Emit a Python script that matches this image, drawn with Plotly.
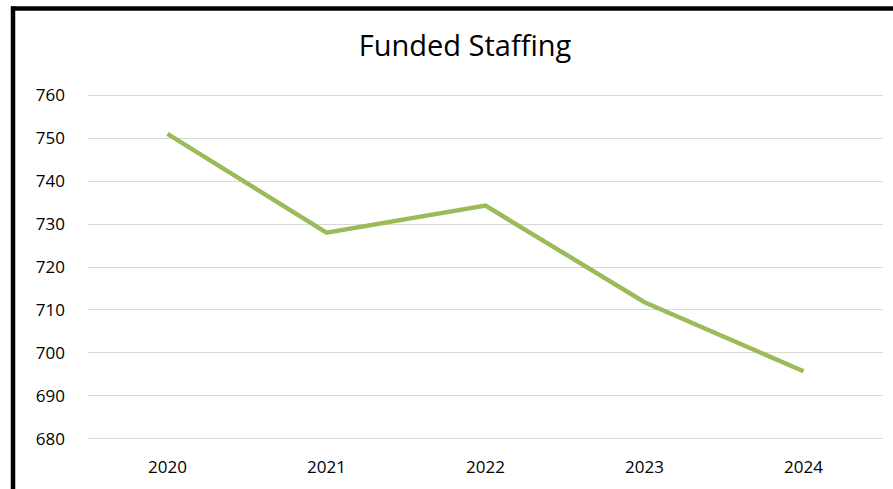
import plotly.graph_objects as go

years = ["2020", "2021", "2022", "2023", "2024"]
staffing = [751, 728, 734.3, 711.8, 695.7]
y_ticks = [680, 690, 700, 710, 720, 730, 740, 750, 760]

W, H = 893, 489
ml, mr, mt, mb = 88, 10, 91, 46
pw, ph = W - ml - mr, H - mt - mb

def px_x(x):
    return (x - ml) / pw

def px_y(y):
    return (H - mb - y) / ph

fig = go.Figure()
fig.add_trace(go.Scatter(
    x=years, y=staffing, mode="lines",
    line=dict(color="#9BBB59", width=4.5),
    hoverinfo="x+y",
))

fig.update_layout(
    width=W, height=H,
    margin=dict(l=ml, r=mr, t=mt, b=mb, autoexpand=False),
    paper_bgcolor="white", plot_bgcolor="white",
    showlegend=False,
    font=dict(family="Open Sans, Liberation Sans, sans-serif", color="#000000"),
    title=dict(
        text="Funded Staffing",
        font=dict(size=29, color="#000000"),
        x=465 / W, xref="container", xanchor="center",
        y=1 - 46 / H, yref="container", yanchor="middle",
    ),
    xaxis=dict(
        type="category", range=[-0.5, 4.5], showgrid=False, zeroline=False,
        showline=False, tickfont=dict(size=17), ticklabelstandoff=12,
        automargin=False,
    ),
    yaxis=dict(
        range=[679, 761], tickvals=y_ticks, showgrid=True, gridcolor="#d9d9d9",
        gridwidth=1.3, zeroline=False, showline=False,
        tickfont=dict(size=17), ticklabelstandoff=22, automargin=False,
    ),
    shapes=[
        dict(type="line", xref="paper", yref="paper",
             x0=px_x(13), x1=px_x(13), y0=px_y(6.5), y1=px_y(H + 10),
             line=dict(color="black", width=4.5)),
        dict(type="line", xref="paper", yref="paper",
             x0=px_x(11), x1=px_x(W + 10), y0=px_y(8.5), y1=px_y(8.5),
             line=dict(color="black", width=4.5)),
    ],
)

fig.write_html(
    "out.html",
    config={"displayModeBar": False},
    post_script="document.body.style.margin='0';document.body.style.overflow='hidden';",
)
